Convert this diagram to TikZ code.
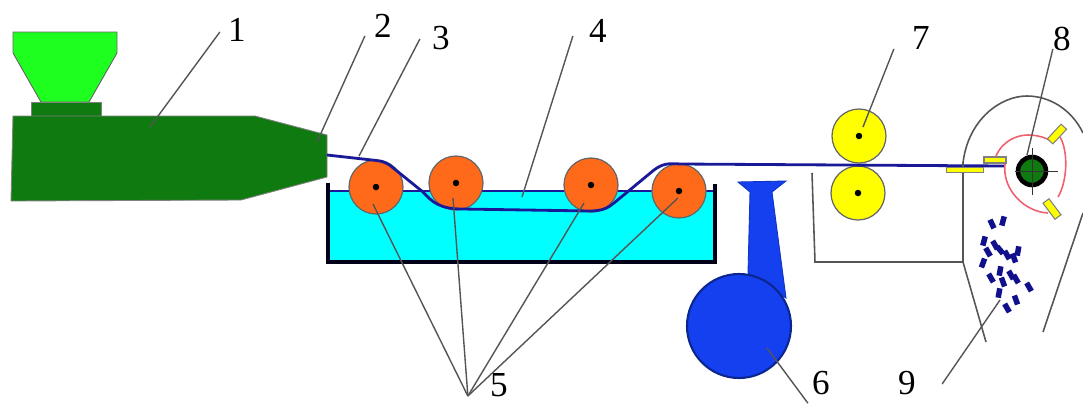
\documentclass[tikz,border=0pt]{standalone}
\usepackage{fontspec}
\setmainfont{Liberation Serif}
\definecolor{barrelgreen}{HTML}{0F7A0F}
\definecolor{hoppergreen}{HTML}{1FFF1F}
\definecolor{rollerorange}{HTML}{FF6A1A}
\definecolor{bathcyan}{HTML}{00FFFF}
\definecolor{rollyellow}{HTML}{FFFF00}
\definecolor{ballblue}{HTML}{1440F0}
\definecolor{threadblue}{HTML}{1A1A99}
\definecolor{chipblue}{HTML}{10108C}
\definecolor{guidepink}{HTML}{F06070}
\definecolor{leadgray}{HTML}{555555}
\tikzset{
  rollerbase/.style={circle,draw=black!60,line width=0.7pt,inner sep=0pt,minimum size=1.08cm},
  axle/.style={circle,fill=black,inner sep=0pt,minimum size=0.13cm},
  leader/.style={leadgray,line width=0.8pt},
  outline/.style={leadgray,line width=0.9pt},
  tab/.style={rectangle,draw=black!50,fill=rollyellow,line width=0.6pt,inner sep=0pt},
  chip/.style={rectangle,fill=chipblue,inner sep=0pt,minimum width=0.19cm,minimum height=0.11cm},
  numlabel/.style={inner sep=0pt,font=\fontsize{20}{24}\selectfont}
}
\begin{document}
\begin{tikzpicture}[x=0.02cm,y=-0.02cm]
\useasboundingbox (0,0) rectangle (1083,403);
% extruder
\draw[fill=hoppergreen,draw=black!60,line width=0.5pt] (13,32) -- (117,32) -- (117,53) -- (89,102) -- (41,102) -- (13,53) -- cycle;
\draw[fill=barrelgreen,draw=black!50,line width=0.5pt] (31,102) rectangle (101,116);
\draw[fill=barrelgreen,draw=black!50,line width=0.5pt] (13,116) -- (255,116) -- (327,135) -- (327,177) -- (241,200) -- (11,201) -- cycle;
% bath
\fill[bathcyan] (329,191) rectangle (715,262);
\draw[threadblue,line width=1.6pt] (329,191) -- (715,191);
\draw[black!90!blue,line width=2.8pt] (328,183) -- (328,262) -- (715,262) -- (715,184);
% rollers
\foreach \name/\pos in {rA/{376,187},rB/{456,183},rC/{591,185},rD/{679,191}}{
  \node[rollerbase,fill=rollerorange] (\name) at (\pos) {};
  \node[axle] (\name dot) at (\name) {};
}
\foreach \name/\pos in {yA/{859,136},yB/{858,193}}{
  \node[rollerbase,fill=rollyellow] (\name) at (\pos) {};
  \node[axle] (\name dot) at (\name) {};
}
% thread
\draw[threadblue,line width=1.6pt] (327,155) -- (372,160) .. controls (382,161) and (386,162) .. (392,167) -- (423,192) .. controls (432,202) and (440,209) .. (462,209) -- (590,211) .. controls (602,211) and (608,208) .. (614,203) -- (654,170) .. controls (662,164) and (668,163) .. (680,164) -- (1004,166);
% air knife
\draw[ballblue!80!black,fill=ballblue,line width=0.5pt] (738,182) -- (786,181) -- (772,192) -- (786,298) -- (748,273) -- (750,192) -- cycle;
\node[circle,draw=ballblue!60!black,fill=ballblue,line width=1.2pt,inner sep=0pt,minimum size=2.08cm] (ball) at (739,326) {};
% winder frame
\draw[outline] (812,173) -- (815,262) -- (963,262) -- (963,163) .. controls (968,120) and (1000,96) .. (1027,96) .. controls (1050,96) and (1072,110) .. (1083,133);
\draw[outline] (963,262) -- (986,342);
\draw[outline] (1083,213) -- (1043,332);
% guide
\draw[guidepink,line width=0.9pt] (996,156) .. controls (1003,140) and (1018,135) .. (1028,135) .. controls (1038,135) and (1046,138) .. (1051,141);
\draw[guidepink,line width=0.9pt] (1060,137) .. controls (1068,150) and (1068,180) .. (1058,197);
\draw[guidepink,line width=0.9pt] (1048,213) .. controls (1025,212) and (1002,190) .. (1005,164);
\node[tab,minimum width=0.44cm,minimum height=0.12cm] (tabA) at (995,160) {};
\node[tab,minimum width=0.74cm,minimum height=0.11cm] (tabB) at (965,170) {};
\node[tab,rotate=47,minimum width=0.4cm,minimum height=0.15cm] (tabC) at (1057,134) {};
\node[tab,rotate=-53,minimum width=0.4cm,minimum height=0.15cm] (tabD) at (1052,209) {};
% bobbin
\node[circle,draw=black,fill=barrelgreen,line width=2.6pt,inner sep=0pt,minimum size=0.56cm] (spool) at (1032,171) {};
\draw[black!80,line width=0.5pt] (1015,171) -- (1058,171);
\draw[black!80,line width=0.5pt] (1032,148) -- (1032,195);
% pellets
\foreach \x/\y/\a [count=\i] in {992/224/-65,1003/221/75,984/241/75,988/252/-60,995/245/-60,1000/250/-50,1007/255/-60,1014/258/-70,1018/251/80,983/263/70,1000/271/80,991/278/-60,1003/282/-70,1011/275/-60,1016/279/-60,1029/287/-60,999/293/80,1016/300/-70,1007/308/-60}{
  \node[chip,rotate=\a] (chip\i) at (\x,\y) {};
}
% labels
\node[numlabel] (labA) at (237,30) {1};
\node[numlabel] (labB) at (383,26) {2};
\node[numlabel] (labC) at (441,38) {3};
\node[numlabel] (labD) at (598,31) {4};
\node[numlabel] (labE) at (499,385) {5};
\node[numlabel] (labF) at (821,383) {6};
\node[numlabel] (labG) at (921,38) {7};
\node[numlabel] (labH) at (1062,39) {8};
\node[numlabel] (labI) at (907,383) {9};
% leader ends
\coordinate (tipA) at (150,127);
\coordinate (tipB) at (317,142);
\coordinate (tipC) at (359,156);
\coordinate (tipD) at (522,197);
\coordinate (tipF) at (767,348);
\coordinate (tipG) at (863,127);
\coordinate (tipH) at (1027,155);
\coordinate (tipI) at (1000,300);
\coordinate (tipEa) at (373,204);
\coordinate (tipEb) at (453,198);
\coordinate (tipEc) at (584,203);
\coordinate (tipEd) at (678,198);
\coordinate (joinE) at ([shift={(-22,11)}]labE.west);
% leaders
\draw[leader] ([shift={(-8,2)}]labA.west) -- (tipA);
\draw[leader] ([shift={(-9,10)}]labB.west) -- (tipB);
\draw[leader] ([shift={(-12,1)}]labC.west) -- (tipC);
\draw[leader] ([shift={(-16,5)}]labD.west) -- (tipD);
\draw[leader] ([shift={(-4,8)}]labF.south west) -- (tipF);
\draw[leader] ([shift={(-18,11)}]labG.west) -- (tipG);
\draw[leader] ([shift={(0,10)}]labH.west) -- (tipH);
\draw[leader] ([shift={(26,1)}]labI.east) -- (tipI);
\foreach \t in {tipEa,tipEb,tipEc,tipEd}{
  \draw[leader] (joinE) -- (\t);
}
\end{tikzpicture}
\end{document}
